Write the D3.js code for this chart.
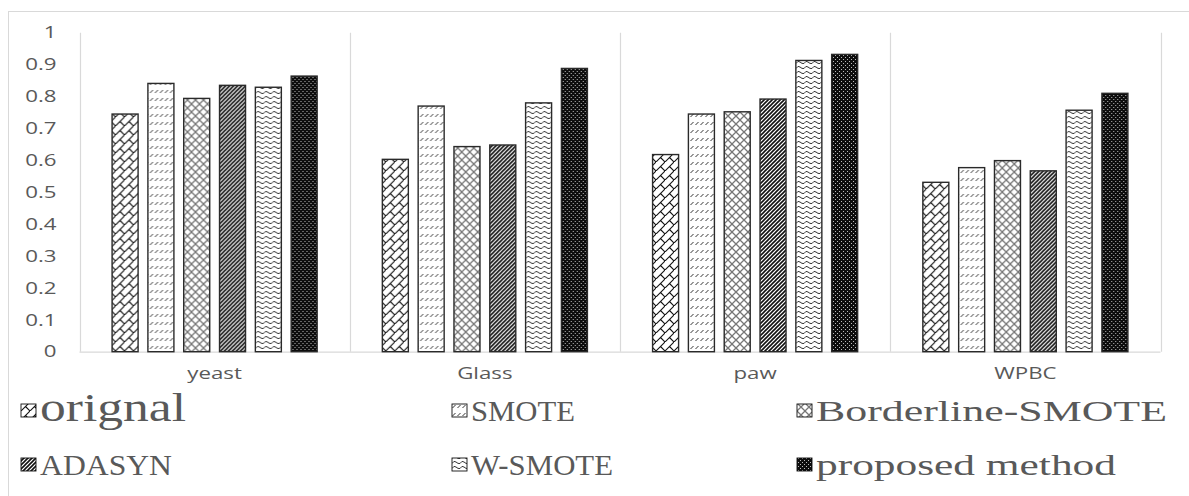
<!DOCTYPE html>
<html>
<head>
<meta charset="utf-8">
<script src="https://cdn.jsdelivr.net/npm/d3@7"></script>
<style>
  body { margin: 0; background: #fff; }
  svg { display: block; }
</style>
</head>
<body>
<svg id="chart" width="1189" height="496"></svg>
<script>
// Datasets and methods
const categories = ["yeast", "Glass", "paw", "WPBC"];
const seriesNames = ["orignal", "SMOTE", "Borderline-SMOTE", "ADASYN", "W-SMOTE", "proposed method"];

// Scores per dataset (yeast, Glass, paw, WPBC)
const orignal    = [0.745, 0.603, 0.618, 0.531];
const smote      = [0.841, 0.770, 0.745, 0.577];
const borderline = [0.794, 0.643, 0.752, 0.599];
const adasyn     = [0.835, 0.648, 0.792, 0.567];
const wsmote     = [0.829, 0.780, 0.913, 0.757];
const proposed   = [0.864, 0.888, 0.932, 0.810];

const yTicks = [0, 0.1, 0.2, 0.3, 0.4, 0.5, 0.6, 0.7, 0.8, 0.9, 1];
const yTickLabels = ["0", "0.1", "0.2", "0.3", "0.4", "0.5", "0.6", "0.7", "0.8", "0.9", "1"];

const seriesValues = [orignal, smote, borderline, adasyn, wsmote, proposed];

const svg = d3.select("#chart");
const GRID = "#d9d9d9";
const TEXT = "#595959";
const SX = 1.35; // horizontal stretch applied to the axis text

// ---- hatch patterns ----
const defs = svg.append("defs");
function pattern(id, w, h) {
  return defs.append("pattern").attr("id", id)
    .attr("patternUnits", "userSpaceOnUse")
    .attr("width", w).attr("height", h);
}
// diagonal brick
{
  const p = pattern("pat0", 9, 9);
  p.append("rect").attr("width", 9).attr("height", 9).attr("fill", "#fff");
  p.append("path").attr("d", "M-1,10 L10,-1 M4.5,4.5 L9,9")
    .attr("stroke", "#111").attr("stroke-width", 1.1).attr("fill", "none");
}
// dashed upward diagonal
{
  const p = pattern("pat1", 5, 8);
  p.append("rect").attr("width", 5).attr("height", 8).attr("fill", "#fff");
  p.append("path").attr("d", "M0.5,5 L3.5,2")
    .attr("stroke", "#333").attr("stroke-width", 1).attr("fill", "none");
}
// outlined diamond
{
  const p = pattern("pat2", 8, 8);
  p.append("rect").attr("width", 8).attr("height", 8).attr("fill", "#fff");
  p.append("path").attr("d", "M0,0 L8,8 M8,0 L0,8")
    .attr("stroke", "#777").attr("stroke-width", 1.3).attr("fill", "none");
}
// dark upward diagonal
{
  const p = pattern("pat3", 4, 4);
  p.append("rect").attr("width", 4).attr("height", 4).attr("fill", "#fff");
  p.append("path").attr("d", "M-1,1 L1,-1 M0,4 L4,0 M3,5 L5,3")
    .attr("stroke", "#111").attr("stroke-width", 1.6).attr("fill", "none");
}
// wave
{
  const p = pattern("pat4", 8, 5);
  p.append("rect").attr("width", 8).attr("height", 5).attr("fill", "#fff");
  p.append("path").attr("d", "M0,3.5 Q2,0 4,2 T8,3.5")
    .attr("stroke", "#333").attr("stroke-width", 1).attr("fill", "none");
}
// dark with light dots
{
  const p = pattern("pat5", 4, 4);
  p.append("rect").attr("width", 4).attr("height", 4).attr("fill", "#0d0d0d");
  p.append("rect").attr("x", 1).attr("y", 1).attr("width", 1).attr("height", 1).attr("fill", "#bbb");
  p.append("rect").attr("x", 3).attr("y", 3).attr("width", 1).attr("height", 1).attr("fill", "#bbb");
}

// ---- outer frame ----
svg.append("rect")
  .attr("x", 8.5).attr("y", 11.5).attr("width", 1200).attr("height", 500)
  .attr("fill", "none").attr("stroke", GRID);

// ---- scales ----
const plotLeft = 79.5, plotRight = 1160.5, plotTop = 32.7, plotBottom = 351.7;
const x0 = d3.scaleBand().domain(categories).range([plotLeft, plotRight]).padding(0);
const x1 = d3.scaleBand().domain(seriesNames).range([0, x0.bandwidth()])
  .paddingInner(0.274).paddingOuter(0.91);
const y = d3.scaleLinear().domain([0, 1]).range([plotBottom, plotTop]);

// ---- vertical separators and baseline ----
const bounds = categories.map(c => x0(c)).concat([x0(categories[categories.length - 1]) + x0.bandwidth()]);
svg.append("g").selectAll("line").data(bounds).join("line")
  .attr("x1", d => Math.round(d) + 0.5).attr("x2", d => Math.round(d) + 0.5)
  .attr("y1", y(1)).attr("y2", y(0))
  .attr("stroke", GRID).attr("stroke-width", 1.2);
svg.append("line")
  .attr("x1", plotLeft).attr("x2", plotRight)
  .attr("y1", y(0) + 0.5).attr("y2", y(0) + 0.5)
  .attr("stroke", GRID).attr("stroke-width", 1.2);

// ---- bars ----
const groups = svg.append("g").selectAll("g").data(categories).join("g")
  .attr("transform", c => `translate(${x0(c)},0)`);
groups.selectAll("rect")
  .data((c, ci) => seriesNames.map((s, si) => ({ s, si, v: seriesValues[si][ci] })))
  .join("rect")
  .attr("x", d => x1(d.s))
  .attr("y", d => y(d.v))
  .attr("width", x1.bandwidth())
  .attr("height", d => y(0) - y(d.v))
  .attr("fill", d => `url(#pat${d.si})`)
  .attr("stroke", "#2a2a2a").attr("stroke-width", 1.4);

// ---- y axis ----
const yAxis = svg.append("g")
  .attr("transform", `translate(${plotLeft},0)`)
  .call(d3.axisLeft(y).tickValues(yTicks).tickFormat((d, i) => yTickLabels[i]).tickSize(0));
yAxis.select(".domain").remove();
yAxis.selectAll("text")
  .attr("x", 0)
  .attr("transform", `translate(-23,0) scale(${SX},1)`)
  .attr("font-family", "'Open Sans', sans-serif")
  .attr("font-size", 16.5)
  .attr("fill", TEXT);

// ---- category labels ----
svg.append("g").selectAll("text").data(categories).join("text")
  .attr("transform", c => `translate(${x0(c) + x0.bandwidth() / 2},379) scale(${SX},1)`)
  .attr("text-anchor", "middle")
  .attr("font-family", "'Open Sans', sans-serif")
  .attr("font-size", 16.5)
  .attr("fill", TEXT)
  .text(c => c);

// ---- legend ----
const colX = [21, 452, 797];
const rowY = [411, 465];
const labelWidths = [146, 104, 351, 132, 142, 300];
const labelSizes = [39, 29, 29, 29, 29, 29];
const legend = svg.append("g").selectAll("g").data(seriesNames).join("g")
  .attr("transform", (s, i) => `translate(${colX[i % 3]},${rowY[Math.floor(i / 3)]})`);
legend.append("rect")
  .attr("x", 0).attr("y", -7).attr("width", 15).attr("height", 13)
  .attr("fill", (s, i) => `url(#pat${i})`)
  .attr("stroke", "#111").attr("stroke-width", 0.9);
legend.append("text")
  .attr("x", 19).attr("y", 10)
  .attr("font-family", "'Liberation Serif', 'Times New Roman', serif")
  .attr("font-size", (s, i) => labelSizes[i])
  .attr("fill", TEXT)
  .attr("textLength", (s, i) => labelWidths[i])
  .attr("lengthAdjust", "spacingAndGlyphs")
  .text(s => s);
</script>
</body>
</html>
